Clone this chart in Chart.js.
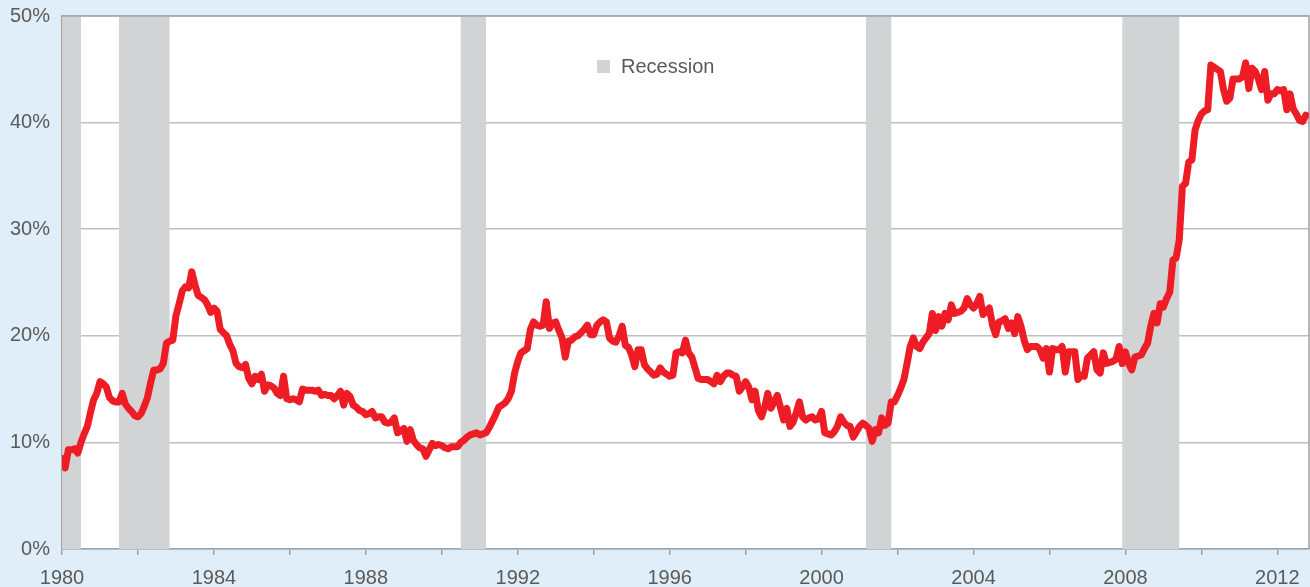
<!DOCTYPE html>
<html>
<head>
<meta charset="utf-8">
<script src="https://cdn.jsdelivr.net/npm/chart.js@4/dist/chart.umd.min.js"></script>
<style>
  html, body { margin: 0; padding: 0; background: #dfeef9; }
  #wrap { width: 1310px; height: 587px; position: relative; }
</style>
</head>
<body>
<div id="wrap"><canvas id="longTermChart"></canvas></div>
<script>
const startYear = 1980;

// share of unemployed out of work 27 weeks or more, monthly, Jan 1980 - Oct 2012
const share = [
  8.5, 7.6, 9.3, 9.3, 9.4, 9.0, 10.0, 10.8, 11.5, 12.8, 14.0, 14.6,
  15.7, 15.5, 15.2, 14.2, 13.9, 13.8, 13.8, 14.6, 13.6, 13.2, 12.9, 12.5,
  12.4, 12.7, 13.4, 14.2, 15.6, 16.8, 16.8, 16.9, 17.4, 19.3, 19.5, 19.6,
  21.9, 23.0, 24.2, 24.6, 24.5, 26.0, 24.8, 23.8, 23.6, 23.4, 22.9, 22.2,
  22.6, 22.3, 20.6, 20.3, 20.0, 19.2, 18.6, 17.4, 17.1, 17.0, 17.3, 16.0,
  15.5, 16.2, 15.9, 16.4, 14.8, 15.4, 15.3, 15.1, 14.6, 14.4, 16.2, 14.1,
  14.0, 14.1, 14.0, 13.8, 15.0, 14.9, 14.9, 14.9, 14.8, 14.9, 14.4, 14.5,
  14.4, 14.4, 14.1, 14.4, 14.8, 13.5, 14.6, 14.3, 13.5, 13.3, 13.0, 12.9,
  12.6, 12.7, 12.9, 12.3, 12.4, 12.4, 11.9, 11.8, 11.9, 12.3, 10.9, 11.1,
  11.3, 10.1, 11.2, 10.2, 9.8, 9.5, 9.4, 8.7, 9.3, 9.9, 9.7, 9.8,
  9.7, 9.5, 9.4, 9.6, 9.6, 9.6, 10.0, 10.2, 10.5, 10.7, 10.8, 10.9,
  10.7, 10.8, 10.9, 11.4, 12.0, 12.6, 13.3, 13.5, 13.7, 14.1, 14.8, 16.5,
  17.6, 18.4, 18.6, 18.8, 20.6, 21.3, 21.0, 20.9, 21.0, 23.2, 20.7, 21.2,
  21.3, 20.5, 19.8, 18.0, 19.5, 19.6, 19.9, 20.0, 20.3, 20.6, 21.0, 20.1,
  20.1, 21.0, 21.3, 21.5, 21.3, 19.8, 19.5, 19.4, 20.0, 20.9, 19.1, 18.9,
  18.2, 17.1, 18.7, 18.7, 17.3, 16.9, 16.6, 16.3, 16.4, 17.0, 16.6, 16.4,
  16.2, 16.3, 18.4, 18.5, 18.4, 19.6, 18.4, 18.0, 17.0, 16.0, 15.9, 15.9,
  15.9, 15.7, 15.5, 16.3, 15.7, 16.2, 16.5, 16.5, 16.3, 16.2, 14.8, 15.2,
  15.7, 15.2, 14.0, 14.8, 13.0, 12.4, 13.3, 14.6, 13.2, 13.8, 14.4, 13.3,
  12.1, 13.2, 11.5, 11.9, 12.8, 13.8, 12.4, 12.1, 12.3, 12.4, 12.1, 12.2,
  12.9, 10.9, 10.8, 10.7, 11.0, 11.5, 12.4, 11.9, 11.6, 11.5, 10.5, 11.0,
  11.5, 11.8, 11.6, 11.3, 10.1, 11.2, 10.9, 12.3, 11.6, 11.8, 13.8, 13.8,
  14.4, 15.1, 15.9, 17.4, 19.0, 19.8, 19.0, 18.8, 19.4, 19.8, 20.2, 22.1,
  20.5, 21.8, 20.9, 22.1, 21.5, 22.9, 22.1, 22.2, 22.3, 22.6, 23.5, 22.9,
  22.6, 23.0, 23.7, 22.0, 22.3, 22.6, 21.0, 20.1, 21.3, 21.4, 21.6, 20.7,
  21.2, 20.2, 21.8, 20.9, 19.6, 18.7, 19.0, 19.0, 19.0, 18.7, 17.9, 18.8,
  16.6, 18.8, 18.7, 18.7, 19.0, 16.6, 18.5, 18.5, 18.5, 15.9, 16.3, 16.2,
  17.9, 18.2, 18.5, 16.8, 16.5, 18.4, 17.4, 17.5, 17.6, 17.8, 19.0, 17.4,
  18.5, 17.4, 16.8, 18.0, 18.1, 18.2, 18.8, 19.3, 20.9, 22.1, 21.2, 23.0,
  22.7, 23.5, 24.1, 27.1, 27.3, 29.0, 34.0, 34.3, 36.3, 36.5, 39.3, 40.2,
  40.8, 41.1, 41.2, 45.4, 45.2, 45.0, 44.8, 43.1, 42.0, 42.3, 44.1, 44.1,
  44.1, 44.3, 45.6, 43.2, 45.1, 44.8, 44.1, 43.1, 44.8, 42.1, 42.7, 42.7,
  43.1, 43.0, 43.1, 41.2, 42.7, 41.3, 40.8, 40.2, 40.1, 40.7
];

// NBER recessions, start and end month
const recessions = [
  ["1980-01", "1980-07"],
  ["1981-07", "1982-11"],
  ["1990-07", "1991-03"],
  ["2001-03", "2001-11"],
  ["2007-12", "2009-06"]
];

const yTicks = [0, 10, 20, 30, 40, 50];
const legendLabel = "Recession";

const monthIndex = s => {
  const [y, m] = s.split("-").map(Number);
  return (y - startYear) * 12 + (m - 1);
};

const points = share.map((v, i) => ({ x: i, y: v }));

const font = { family: "'Liberation Sans', Arial, sans-serif", size: 20 };
const textColor = "#5a5a5a";
const bandColor = "#d1d3d5";

// white plot area, recession bands, frame and legend
const plotDecor = {
  id: "plotDecor",
  beforeDraw(chart) {
    const { ctx, chartArea: a } = chart;
    ctx.save();
    ctx.fillStyle = "#fff";
    ctx.fillRect(a.left, a.top, a.right - a.left, a.bottom - a.top);
    ctx.restore();
  },
  beforeDatasetsDraw(chart) {
    const { ctx, chartArea: a, scales: { x } } = chart;
    ctx.save();
    ctx.fillStyle = bandColor;
    recessions.forEach(([s, e]) => {
      const x0 = x.getPixelForValue(monthIndex(s));
      const x1 = x.getPixelForValue(monthIndex(e));
      ctx.fillRect(x0, a.top, x1 - x0, a.bottom - a.top);
    });
    ctx.strokeStyle = "#a0a3a6";
    ctx.lineWidth = 1.5;
    ctx.beginPath();
    ctx.moveTo(a.left, a.top);
    ctx.lineTo(a.right, a.top);
    ctx.lineTo(a.right, a.bottom);
    ctx.stroke();
    // legend
    ctx.fillStyle = bandColor;
    ctx.fillRect(597, 60, 13, 13);
    ctx.fillStyle = textColor;
    ctx.font = `${font.size}px ${font.family}`;
    ctx.textBaseline = "middle";
    ctx.fillText(legendLabel, 621, 67);
    ctx.restore();
  }
};

new Chart(document.getElementById("longTermChart"), {
  type: "line",
  data: {
    datasets: [{
      label: "Long-term unemployed share",
      data: points,
      borderColor: "#ee1c25",
      borderWidth: 7,
      borderJoinStyle: "round",
      borderCapStyle: "round",
      pointRadius: 0,
      tension: 0,
      fill: false
    }]
  },
  options: {
    responsive: true,
    maintainAspectRatio: false,
    animation: false,
    layout: { padding: { top: 16, right: 1, left: 0, bottom: 0 } },
    plugins: { legend: { display: false }, tooltip: { enabled: false } },
    scales: {
      x: {
        type: "linear",
        min: 0,
        max: 394,
        afterFit: s => { s.height = 38; s.paddingLeft = 0; s.paddingRight = 0; },
        border: { color: "#a0a3a6", width: 1.5 },
        grid: { drawOnChartArea: false, drawTicks: true, tickLength: 6, color: "#a0a3a6", lineWidth: 1.5 },
        ticks: {
          stepSize: 24,
          includeBounds: false,
          autoSkip: false,
          maxRotation: 0,
          padding: 11,
          color: textColor,
          font: font,
          callback: v => (v % 48 === 0 ? String(startYear + v / 12) : "")
        }
      },
      y: {
        min: yTicks[0],
        max: yTicks[yTicks.length - 1],
        afterFit: s => { s.width = 62; s.paddingTop = 0; s.paddingBottom = 0; },
        afterBuildTicks: s => { s.ticks = yTicks.map(v => ({ value: v })); },
        border: { color: "#a0a3a6", width: 1.5 },
        grid: { drawTicks: false, color: "#bdbfc1", lineWidth: 1.5 },
        ticks: {
          padding: 12,
          color: textColor,
          font: font,
          callback: v => v + "%"
        }
      }
    }
  },
  plugins: [plotDecor]
});
</script>
</body>
</html>
